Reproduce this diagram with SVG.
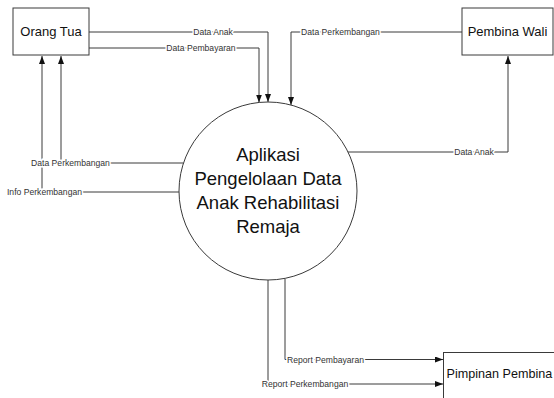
<svg xmlns="http://www.w3.org/2000/svg" width="554" height="398" viewBox="0 0 554 398">
<style>
.box{fill:#fff;stroke:#3a3a3a;stroke-width:1}
.nt{font-family:"Liberation Sans",Arial,sans-serif;font-size:13px;fill:#111;text-anchor:middle}
.ct{font-family:"Liberation Sans",Arial,sans-serif;font-size:18.5px;fill:#111;text-anchor:middle}
.ln{fill:none;stroke:#3a3a3a;stroke-width:1;marker-end:url(#ah)}
.lb{font-family:"Liberation Sans",Arial,sans-serif;font-size:8.6px;fill:#333;text-anchor:middle;stroke:#fff;stroke-width:3;paint-order:stroke}
</style>
<defs>
<marker id="ah" viewBox="0 0 8 6" refX="8" refY="3" markerWidth="8" markerHeight="6" markerUnits="userSpaceOnUse" orient="auto">
<path d="M0,0 L8,3 L0,6 Z" fill="#111"/>
</marker>
</defs>
<rect width="554" height="398" fill="#fff"/>
<g id="connectors">
<path class="ln" d="M89,32 H268 V102"/>
<path class="ln" d="M89,48 H259 V102.5"/>
<path class="ln" d="M462,32 H291 V105"/>
<path class="ln" d="M348,152 H508 V56"/>
<path class="ln" d="M183.5,163 H61 V56"/>
<path class="ln" d="M179,192 H42 V56"/>
<path class="ln" d="M285,278.5 V359.5 H443"/>
<path class="ln" d="M268,280 V384 H443"/>
<text class="lb" x="213" y="35">Data Anak</text>
<text class="lb" x="201" y="51">Data Pembayaran</text>
<text class="lb" x="340.5" y="35">Data Perkembangan</text>
<text class="lb" x="474" y="155">Data Anak</text>
<text class="lb" x="70.5" y="166">Data Perkembangan</text>
<text class="lb" x="44.5" y="195">Info Perkembangan</text>
<text class="lb" x="325.5" y="362.5">Report Pembayaran</text>
<text class="lb" x="305" y="387">Report Perkembangan</text>
</g>
<g id="orang-tua">
<rect class="box" x="13" y="8" width="76" height="47"/>
<text class="nt" x="51" y="36">Orang Tua</text>
</g>
<g id="pembina-wali">
<rect class="box" x="462" y="8" width="91" height="47"/>
<text class="nt" x="507.5" y="36">Pembina Wali</text>
</g>
<g id="pimpinan-pembina">
<rect class="box" x="443.5" y="352.5" width="120" height="60"/>
<text class="nt" x="446.5" y="378" style="text-anchor:start;font-size:12.6px">Pimpinan Pembina</text>
</g>
<g id="aplikasi">
<circle cx="268" cy="191" r="89" fill="#fff" stroke="#3a3a3a" stroke-width="1"/>
<text class="ct" x="268" y="161">Aplikasi</text>
<text class="ct" x="268" y="185">Pengelolaan Data</text>
<text class="ct" x="268" y="209">Anak Rehabilitasi</text>
<text class="ct" x="268" y="233">Remaja</text>
</g>
</svg>
